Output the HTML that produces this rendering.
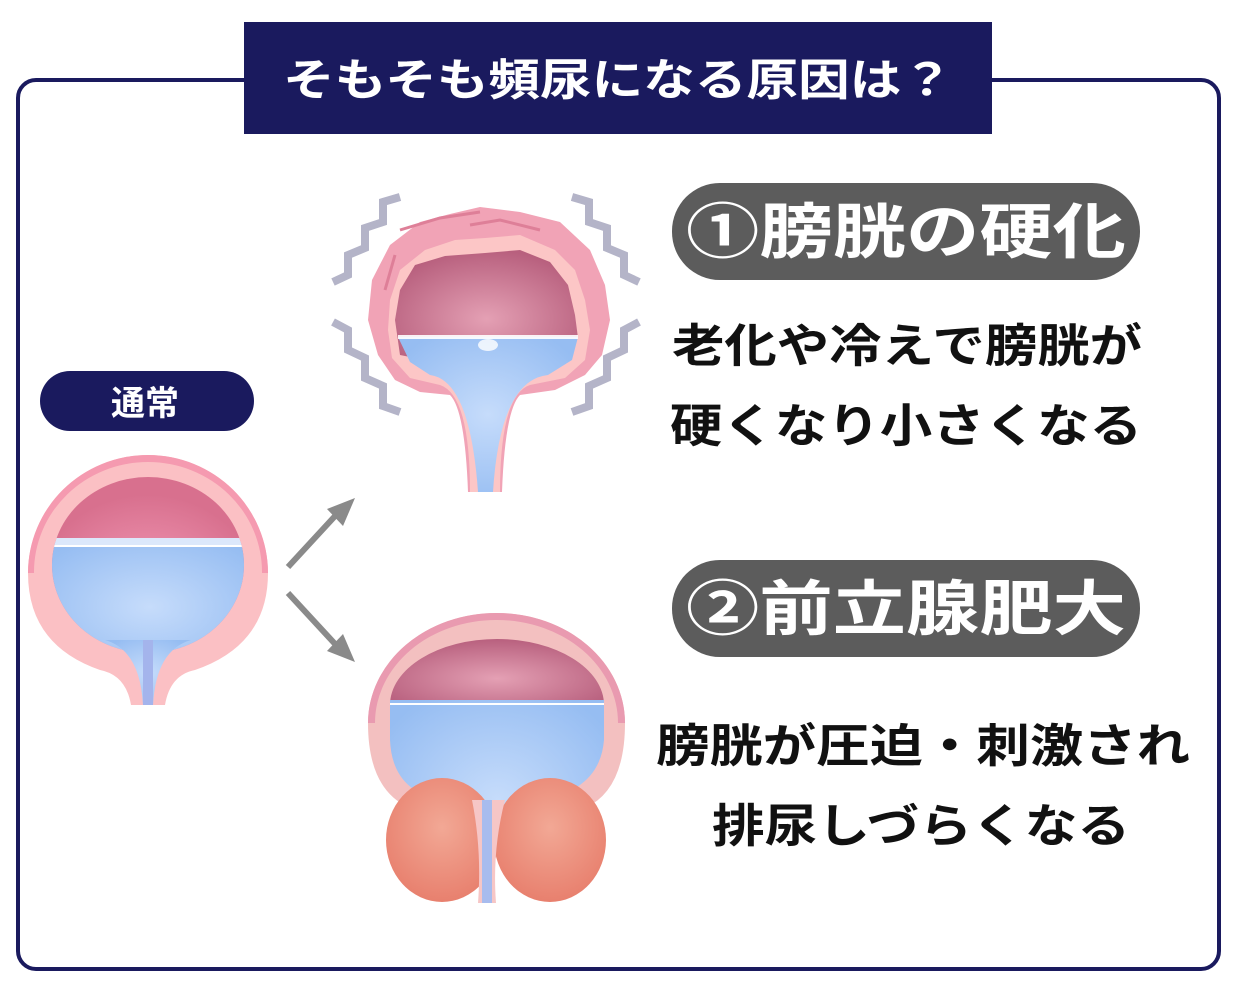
<!DOCTYPE html>
<html><head><meta charset="utf-8"><style>
html,body{margin:0;padding:0;background:#fff;width:1242px;height:992px;overflow:hidden}
svg{display:block}
text{font-family:"Liberation Sans","Noto Sans CJK JP",sans-serif;font-weight:bold}
</style></head><body>
<svg width="1242" height="992" viewBox="0 0 1242 992" xmlns="http://www.w3.org/2000/svg">
<defs>
<radialGradient id="cav" cx="0.5" cy="0.6" r="0.6"><stop offset="0" stop-color="#e4a0b4"/><stop offset="1" stop-color="#b8607e"/></radialGradient>
<radialGradient id="cav1" cx="0.5" cy="0.7" r="0.6"><stop offset="0" stop-color="#f7a0bc"/><stop offset="1" stop-color="#d8708e"/></radialGradient>
<radialGradient id="wat" cx="0.5" cy="0.5" r="0.6"><stop offset="0" stop-color="#c6dcfb"/><stop offset="1" stop-color="#96bdf2"/></radialGradient>
<radialGradient id="pro" cx="0.5" cy="0.4" r="0.6"><stop offset="0" stop-color="#f2a895"/><stop offset="1" stop-color="#e8806e"/></radialGradient>
<clipPath id="c1"><ellipse cx="148" cy="565" rx="96" ry="88"/></clipPath>
<clipPath id="c3"><path d="M390 700 A107 62 0 0 1 604 700 L604 740 Q600 790 540 800 L500 805 Q490 820 485 880 Q480 820 470 805 L440 800 Q392 790 390 740 Z"/></clipPath>
</defs>
<rect x="18" y="80" width="1201" height="889" rx="18" fill="#fff" stroke="#1a1a5e" stroke-width="4"/>
<rect x="244" y="22" width="748" height="112" fill="#1a1a5e"/>
<text x="618" y="95" font-size="44" fill="#fff" text-anchor="middle" textLength="670" lengthAdjust="spacingAndGlyphs">そもそも頻尿になる原因は？</text>

<rect x="40" y="371" width="214" height="60" rx="30" fill="#1a1a5e"/>
<text x="145" y="415" font-size="34" fill="#fff" text-anchor="middle">通常</text>

<path d="M148 455 A120 118 0 0 1 268 573 Q268 645 195 670 Q170 675 165 705 L131 705 Q126 675 100 670 Q28 645 28 573 A120 118 0 0 1 148 455Z" fill="#fbc0c4"/>
<path d="M148 455 A120 118 0 0 1 268 573 L262 573 A114 110 0 0 0 148 462 A114 110 0 0 0 34 573 L28 573 A120 118 0 0 1 148 455Z" fill="#f59ab0"/>
<ellipse cx="148" cy="565" rx="96" ry="88" fill="url(#cav1)"/>
<g clip-path="url(#c1)"><rect x="40" y="542" width="220" height="130" fill="url(#wat)"/><rect x="40" y="538" width="220" height="8" fill="#dce8fb"/><rect x="40" y="545" width="220" height="2" fill="#fff"/></g>
<path d="M105 640 Q140 650 143 705 L153 705 Q156 650 191 640 Z" fill="url(#wat)"/>
<rect x="143" y="640" width="10" height="65" fill="#a4b4ec"/>

<g stroke="#8a8a8a" stroke-width="6" fill="#8a8a8a">
<line x1="288" y1="567" x2="336" y2="515"/>
<line x1="288" y1="593" x2="336" y2="645"/>
</g>
<polygon points="355,498 327,509 343,526" fill="#8a8a8a"/>
<polygon points="355,662 327,651 343,634" fill="#8a8a8a"/>

<g fill="none" stroke="#b4b4c8" stroke-width="8" stroke-linejoin="miter">
<polyline points="400,197 383,202 383,222 365,228 365,248 348,255 348,275 333,282"/>
<polyline points="333,322 348,330 348,350 365,358 365,378 383,386 383,406 400,412"/>
<polyline points="572,197 589,202 589,222 607,228 607,248 624,255 624,275 639,282"/>
<polyline points="639,322 624,330 624,350 607,358 607,378 589,386 589,406 572,412"/>
</g>
<path d="M480 207 L520 212 L560 222 L590 250 L605 285 L610 320 L602 355 L585 375 L555 390 L520 395 Q505 410 502 492 L468 492 Q465 410 450 395 L420 392 L395 380 L378 355 L368 320 L372 280 L390 245 L420 222 L450 214Z" fill="#f1a3b6"/>
<path d="M400 230 L440 218 L480 212 M470 225 L500 220 L540 230 M395 255 L385 290" stroke="#de7f98" stroke-width="3" fill="none"/>
<path d="M485 238 L520 235 L555 250 L575 270 L585 300 L590 330 L585 360 L565 378 L530 385 Q500 395 500 492 L470 492 Q470 395 440 385 L410 378 L392 358 L388 330 L390 300 L400 270 L425 250 L455 240Z" fill="#fcc6c6"/>
<path d="M485 253 L520 250 L550 262 L568 285 L575 315 L578 338 L568 355 L520 365 L450 365 L400 355 L395 320 L400 290 L415 265 L445 256Z" fill="url(#cav)"/>
<path d="M398 337 L578 337 L572 360 L548 375 Q500 380 493 492 L478 492 Q470 380 430 375 L410 362Z" fill="url(#wat)"/>
<rect x="398" y="335" width="180" height="4" fill="#fff" opacity="0.9"/>
<ellipse cx="488" cy="345" rx="10" ry="6" fill="#fff" opacity="0.8"/>

<path d="M497 613 A128 110 0 0 1 625 723 Q625 790 585 808 L410 808 Q368 790 368 723 A128 110 0 0 1 497 613Z" fill="#f3c0c0"/>
<path d="M497 613 A128 110 0 0 1 625 723 L618 723 A121 103 0 0 0 497 620 A121 103 0 0 0 375 723 L368 723 A128 110 0 0 1 497 613Z" fill="#e99ab0"/>
<path d="M390 705 A107 66 0 0 1 604 705Z" fill="url(#cav)"/>
<g clip-path="url(#c3)"><rect x="385" y="700" width="225" height="200" fill="url(#wat)"/><rect x="385" y="703" width="225" height="2" fill="#fff"/></g>
<ellipse cx="442" cy="840" rx="56" ry="62" fill="url(#pro)"/>
<ellipse cx="550" cy="840" rx="56" ry="62" fill="url(#pro)"/>
<path d="M472 800 Q482 850 478 903 L496 903 Q492 850 505 800Z" fill="#f6c6c6"/>
<rect x="482" y="800" width="10" height="103" fill="#a8bcee"/>

<rect x="672" y="183" width="468" height="97" rx="48" fill="#5c5c5c"/>
<text x="906" y="253" font-size="60" fill="#fff" text-anchor="middle" textLength="440" lengthAdjust="spacingAndGlyphs">①膀胱の硬化</text>
<rect x="672" y="560" width="468" height="97" rx="48" fill="#5c5c5c"/>
<text x="906" y="630" font-size="60" fill="#fff" text-anchor="middle" textLength="440" lengthAdjust="spacingAndGlyphs">②前立腺肥大</text>

<g font-size="46" fill="#111">
<text x="672" y="362" textLength="470" lengthAdjust="spacingAndGlyphs">老化や冷えで膀胱が</text>
<text x="670" y="442" textLength="472" lengthAdjust="spacingAndGlyphs">硬くなり小さくなる</text>
<text x="656" y="762" textLength="534" lengthAdjust="spacingAndGlyphs">膀胱が圧迫・刺激され</text>
<text x="712" y="842" textLength="418" lengthAdjust="spacingAndGlyphs">排尿しづらくなる</text>
</g>
</svg>
</body></html>
